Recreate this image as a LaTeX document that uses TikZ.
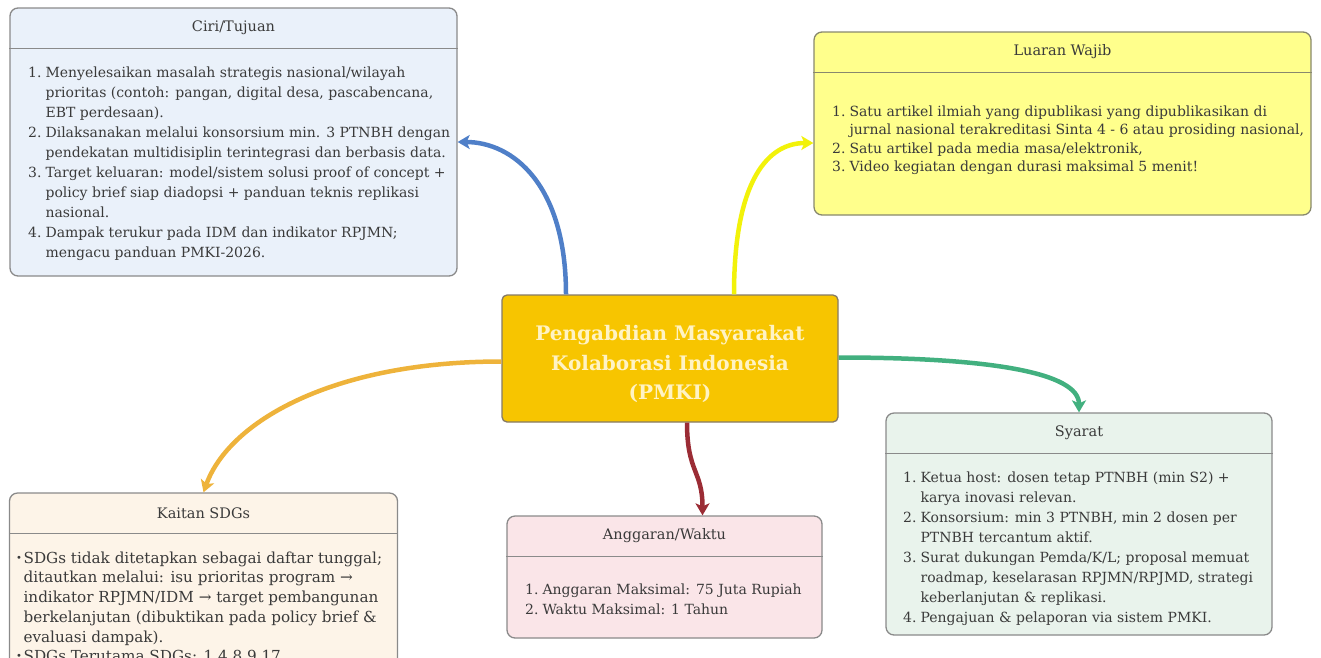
\documentclass[tikz,border=0pt]{standalone}
\usepackage{fontspec}
\setmainfont{DejaVu Serif}
\usetikzlibrary{arrows.meta}
\definecolor{txt}{HTML}{3A3A3A}
\definecolor{boxline}{HTML}{8A8A8A}
\definecolor{fblue}{HTML}{EAF1FA}
\definecolor{fyellow}{HTML}{FFFF8C}
\definecolor{fcream}{HTML}{FDF4E8}
\definecolor{fpink}{HTML}{FAE5E8}
\definecolor{fgreen}{HTML}{E9F3EC}
\definecolor{fcenter}{HTML}{F7C500}
\definecolor{lcenter}{HTML}{857A66}
\definecolor{cblue}{HTML}{4F7FC8}
\definecolor{cyellow}{HTML}{F2F20A}
\definecolor{corange}{HTML}{EEB33B}
\definecolor{cgreen}{HTML}{42B07F}
\definecolor{cred}{HTML}{9B2C35}
\definecolor{ctext}{HTML}{FFF3C4}
\tikzset{
  panel/.style={draw=boxline, line width=1.3pt, rounded corners=8pt, inner sep=0pt},
  hdr/.style={draw=boxline, line width=1.3pt},
  ttl/.style={text=txt, inner sep=0pt, font=\fontsize{14.5}{17}\selectfont},
  body/.style={text=txt, inner sep=0pt, anchor=north west},
  conn/.style={line width=4.5pt, -{Stealth[length=12pt,width=14pt,inset=3pt]}},
}
\newcommand{\bsize}{\fontsize{14}{20}\selectfont}
\newcommand{\ssize}{\fontsize{14}{18.5}\selectfont}
\newcommand{\ksize}{\fontsize{15.2}{19.75}\selectfont}
\newcommand{\smallbul}{\raisebox{2pt}{\fontsize{10}{10}\selectfont •}}
\begin{document}
\begin{tikzpicture}[x=1pt,y=-1pt]
\useasboundingbox (0,0) rectangle (1321,657);
\clip (0,0) rectangle (1321,657);

% panels
\node[panel, fill=fblue, minimum width=447pt, minimum height=268pt] (ciri) at (233.5,142) {};
\node[panel, fill=fyellow, draw=boxline!80!olive, minimum width=497pt, minimum height=183pt] (luaran) at (1062.5,123.5) {};
\node[panel, fill=fcream, minimum width=388pt, minimum height=220pt] (kaitan) at (203.5,603) {};
\node[panel, fill=fpink, minimum width=315pt, minimum height=122pt] (anggaran) at (664.5,577) {};
\node[panel, fill=fgreen, minimum width=386pt, minimum height=222pt] (syarat) at (1079,524) {};
\node[panel, fill=fcenter, draw=lcenter, rounded corners=5pt, minimum width=336pt, minimum height=127pt] (pmki) at (670,358.5) {};
\node[text=ctext, align=center, inner sep=0pt, font=\bfseries\fontsize{20}{29.5}\selectfont] (pmki-t) at (670,364)
      {Pengabdian Masyarakat\\Kolaborasi Indonesia\\(PMKI)};

% header lines
\foreach \b in {ciri,kaitan,anggaran,syarat}{
  \draw[hdr] ([yshift=-41pt]\b.north west) -- ([yshift=-41pt]\b.north east);
}
\draw[hdr, draw=boxline!80!olive] ([yshift=-41pt]luaran.north west) -- ([yshift=-41pt]luaran.north east);

% titles
\node[ttl] (ciri-t) at ([yshift=-20.5pt]ciri.north) {Ciri/Tujuan};
\node[ttl] (luaran-t) at ([yshift=-20.5pt]luaran.north) {Luaran Wajib};
\node[ttl] (kaitan-t) at ([yshift=-20.5pt]kaitan.north) {Kaitan SDGs};
\node[ttl] (anggaran-t) at ([yshift=-20.5pt]anggaran.north) {Anggaran/Waktu};
\node[ttl] (syarat-t) at ([yshift=-20.5pt]syarat.north) {Syarat};

% bodies
\node[body] (ciri-b) at (28,63) {\bsize\begin{tabular}{@{}l@{\hspace{4pt}}l@{}}
1. & Menyelesaikan masalah strategis nasional/wilayah\\
   & prioritas (contoh: pangan, digital desa, pascabencana,\\
   & EBT perdesaan).\\
2. & Dilaksanakan melalui konsorsium min. 3 PTNBH dengan\\
   & pendekatan multidisiplin terintegrasi dan berbasis data.\\
3. & Target keluaran: model/sistem solusi proof of concept +\\
   & policy brief siap diadopsi + panduan teknis replikasi\\
   & nasional.\\
4. & Dampak terukur pada IDM dan indikator RPJMN;\\
   & mengacu panduan PMKI-2026.
\end{tabular}};

\node[body] (luaran-b) at (832,103) {\ssize\begin{tabular}{@{}l@{\hspace{4pt}}l@{}}
1. & Satu artikel ilmiah yang dipublikasi yang dipublikasikan di\\
   & jurnal nasional terakreditasi Sinta 4 - 6 atau prosiding nasional,\\
2. & Satu artikel pada media masa/elektronik,\\
3. & Video kegiatan dengan durasi maksimal 5 menit!
\end{tabular}};

\node[body] (kaitan-b) at (16,549) {\ksize\begin{tabular}{@{}l@{\hspace{1.5pt}}l@{}}
\smallbul & SDGs tidak ditetapkan sebagai daftar tunggal;\\
   & ditautkan melalui: isu prioritas program →\\
   & indikator RPJMN/IDM → target pembangunan\\
   & berkelanjutan (dibuktikan pada policy brief \&\\
   & evaluasi dampak).\\
\smallbul & SDGs Terutama SDGs: 1,4,8,9,17
\end{tabular}};

\node[body] (anggaran-b) at (525,580) {\bsize\begin{tabular}{@{}l@{\hspace{4pt}}l@{}}
1. & Anggaran Maksimal: 75 Juta Rupiah\\
2. & Waktu Maksimal: 1 Tahun
\end{tabular}};

\node[body] (syarat-b) at (903,468) {\bsize\begin{tabular}{@{}l@{\hspace{4pt}}l@{}}
1. & Ketua host: dosen tetap PTNBH (min S2) +\\
   & karya inovasi relevan.\\
2. & Konsorsium: min 3 PTNBH, min 2 dosen per\\
   & PTNBH tercantum aktif.\\
3. & Surat dukungan Pemda/K/L; proposal memuat\\
   & roadmap, keselarasan RPJMN/RPJMD, strategi\\
   & keberlanjutan \& replikasi.\\
4. & Pengajuan \& pelaporan via sistem PMKI.
\end{tabular}};

% connectors
\draw[conn, cblue] ([xshift=-104pt]pmki.north) .. controls +(0,-110) and +(55,0) .. (ciri.east);
\draw[conn, cyellow] ([xshift=64pt]pmki.north) .. controls +(0,-115) and +(-45,0) .. ([yshift=-19.5pt]luaran.west);
\draw[conn, corange] ([yshift=-3pt]pmki.west) .. controls +(-170,0) and +(25,-70) .. (kaitan.north);
\draw[conn, cgreen] ([yshift=1pt]pmki.east) .. controls +(150,0) and +(0,-40) .. (syarat.north);
\draw[conn, cred] ([xshift=17pt]pmki.south) .. controls +(0,50) and +(0,-45) .. ([xshift=38pt]anggaran.north);
\end{tikzpicture}
\end{document}
